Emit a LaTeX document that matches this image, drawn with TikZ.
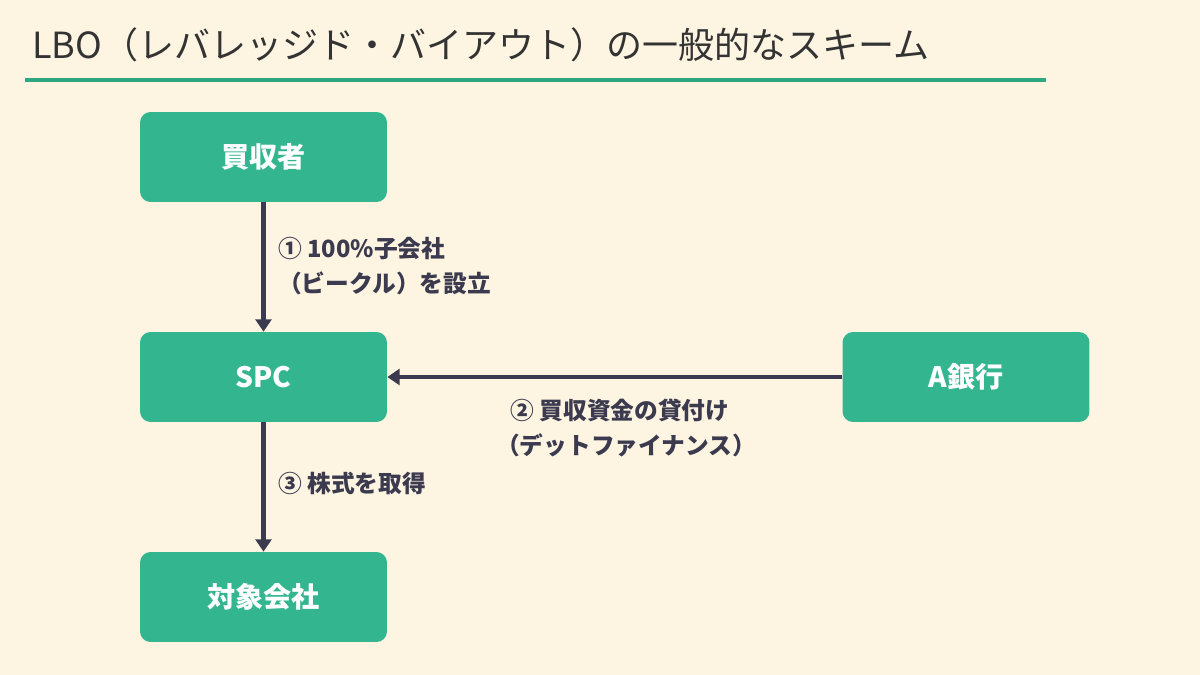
\documentclass[tikz,border=0pt]{standalone}
\usepackage{fontspec}
\setmainfont{Noto Sans CJK JP}
\usetikzlibrary{positioning,arrows.meta}
\definecolor{bgcream}{HTML}{FDF5E2}
\definecolor{boxgreen}{HTML}{33B690}
\definecolor{arrowdark}{HTML}{3B3A4E}
\definecolor{linegreen}{HTML}{2FA882}
\tikzset{
  party/.style={fill=boxgreen,rounded corners=6pt,minimum width=4.94cm,minimum height=1.8cm,
    text=white,font=\fontsize{16}{18}\selectfont\bfseries},
  flow/.style={arrowdark,line width=2.4pt,-{Triangle[length=7pt,width=9pt]}},
  note/.style={text=arrowdark,font=\fontsize{13.5}{20}\selectfont\bfseries,align=left}
}
\begin{document}
\begin{tikzpicture}[x=0.02cm,y=-0.02cm]
\fill[bgcream] (0,0) rectangle (1200,675);
\useasboundingbox (0,0) rectangle (1200,675);
% title
\node[anchor=west,text=black!80,font=\fontsize{20.5}{24}\selectfont] (title) at (26,45) {LBO（レバレッジド・バイアウト）の一般的なスキーム};
\draw[linegreen,line width=1.8pt] (25,80) -- (1046,80);
% parties
\node[party] (buyer) at (263.5,157) {買収者};
\node[party] (spc) at (263.5,377) {SPC};
\node[party] (target) at (263.5,597) {対象会社};
\node[party] (bank) at (966,377) {A銀行};
% flows
\draw[flow] (buyer) -- (spc);
\draw[flow] (spc) -- (target);
\draw[flow] (bank) -- (spc);
\node[note,anchor=west] (n1) at (272,266) {① 100\%子会社\\（ビークル）を設立};
\node[note,anchor=west] (n2) at (490,428) {\hspace{0.6em}② 買収資金の貸付け\\（デットファイナンス）};
\node[note,anchor=west] (n3) at (272,483) {③ 株式を取得};
\end{tikzpicture}
\end{document}
